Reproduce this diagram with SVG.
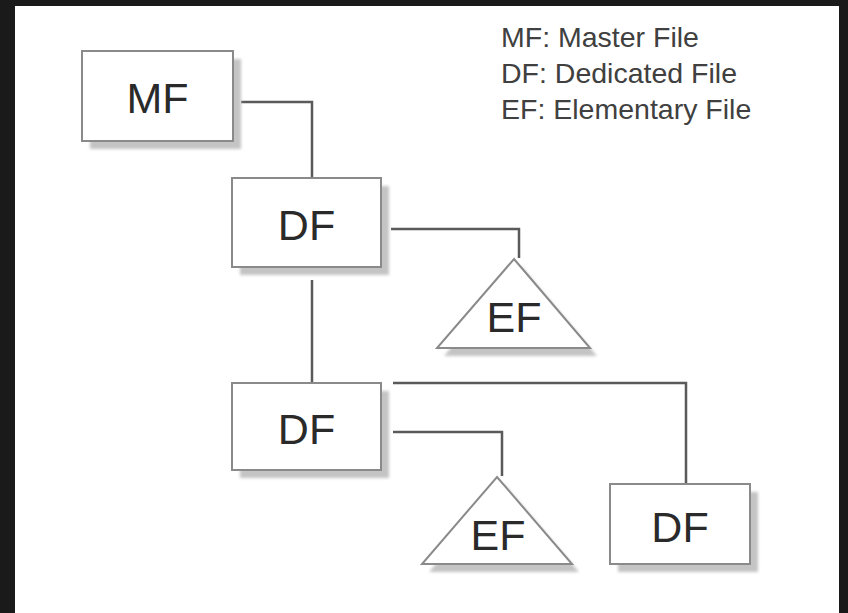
<svg xmlns="http://www.w3.org/2000/svg" width="848" height="613" viewBox="0 0 848 613">
<style>
.box{fill:#ffffff;stroke:#8a8a8a;stroke-width:2}
.shadow{fill:#c4c4c4}
.lbl{font-family:"Liberation Sans",Arial,sans-serif;font-size:43px;fill:#2a2a2a;text-anchor:middle}
.leg{font-family:"Liberation Sans",Arial,sans-serif;font-size:28.5px;fill:#404040}
.conn{fill:none;stroke:#5a5a5a;stroke-width:2.5}
</style>
<defs>
<filter id="blur" x="-10%" y="-10%" width="120%" height="120%"><feGaussianBlur stdDeviation="1.5"/></filter>
</defs>
<rect x="0" y="0" width="848" height="613" fill="#1a1a1a"/>
<rect x="15" y="6" width="824" height="607" fill="#ffffff"/>
<g id="legend">
<text class="leg" x="501" y="47">MF: Master File</text>
<text class="leg" x="501" y="83">DF: Dedicated File</text>
<text class="leg" x="501" y="119">EF: Elementary File</text>
</g>
<g id="connectors">
<polyline class="conn" points="241,102 312,102 312,178"/>
<polyline class="conn" points="391,229 519,229 519,258"/>
<polyline class="conn" points="312,280 312,383"/>
<polyline class="conn" points="393,383 686,383 686,484"/>
<polyline class="conn" points="393,432 502,432 502,476"/>
</g>
<g id="mf">
<rect class="shadow" filter="url(#blur)" x="90" y="59" width="151" height="90"/>
<rect class="box" x="82" y="51" width="151" height="90"/>
<text class="lbl" x="157.5" y="113">MF</text>
</g>
<g id="df1">
<rect class="shadow" filter="url(#blur)" x="240" y="186" width="149" height="89"/>
<rect class="box" x="232" y="178" width="149" height="89"/>
<text class="lbl" x="306.5" y="240">DF</text>
</g>
<g id="ef1">
<polygon class="shadow" filter="url(#blur)" points="521,266 597,356 444,356"/>
<polygon class="box" points="514,259 590,348 437,348"/>
<text class="lbl" x="514" y="332">EF</text>
</g>
<g id="df2">
<rect class="shadow" filter="url(#blur)" x="240" y="391" width="149" height="87"/>
<rect class="box" x="232" y="383" width="149" height="87"/>
<text class="lbl" x="306.5" y="444">DF</text>
</g>
<g id="ef2">
<polygon class="shadow" filter="url(#blur)" points="504,484 579,572 429,572"/>
<polygon class="box" points="497,477 572,564 422,564"/>
<text class="lbl" x="498" y="550">EF</text>
</g>
<g id="df3">
<rect class="shadow" filter="url(#blur)" x="618" y="492" width="140" height="80"/>
<rect class="box" x="610" y="484" width="140" height="80"/>
<text class="lbl" x="680" y="542">DF</text>
</g>
</svg>
